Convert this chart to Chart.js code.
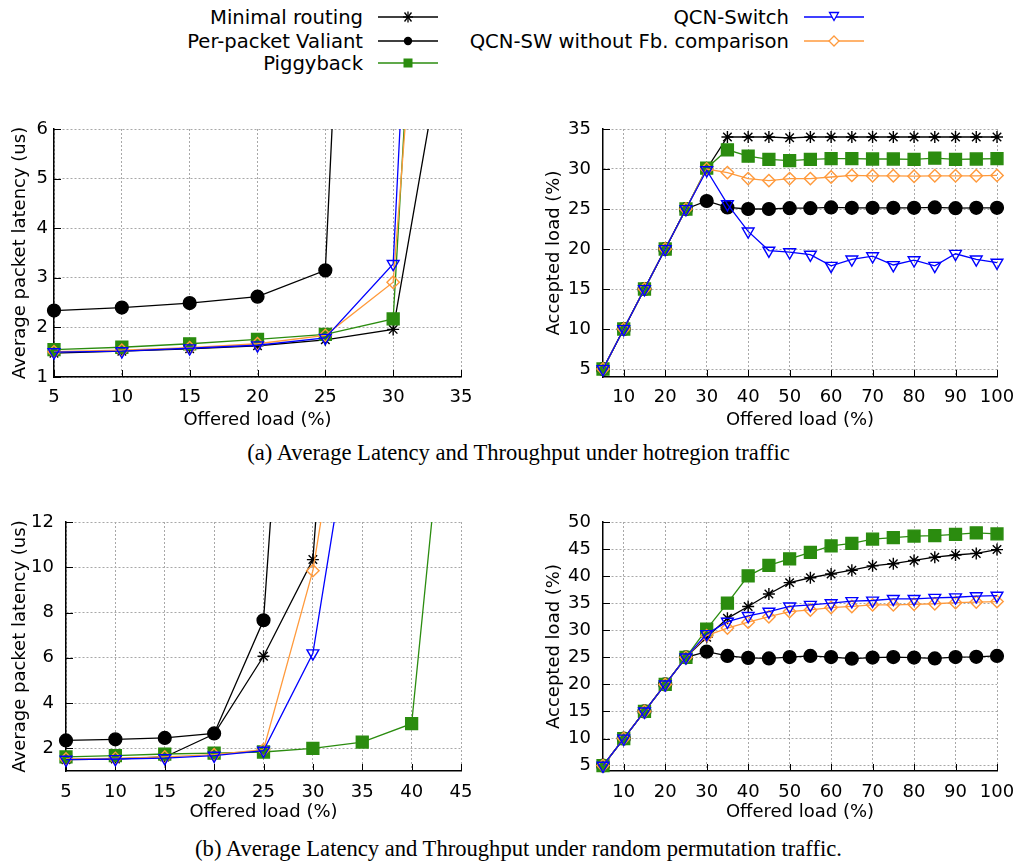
<!DOCTYPE html>
<html><head><meta charset="utf-8">
<script src="https://cdn.jsdelivr.net/npm/chart.js@4.4.1/dist/chart.umd.min.js"></script>
<style>
body{margin:0;background:#fff;width:1019px;height:863px;position:relative;overflow:hidden;font-family:"DejaVu Sans";}
canvas{position:absolute;}
.leg{position:absolute;height:22px;display:flex;align-items:center;justify-content:flex-end;font-size:19.6px;color:#000;white-space:nowrap;}
.leg svg{margin-left:15px;}
.cap{position:absolute;left:9px;width:1019px;text-align:center;font-family:"Liberation Serif";font-size:22.6px;line-height:24px;color:#000;}
</style></head><body>
<div class="leg" style="right:581px;top:6px;">Minimal routing<svg width="60" height="16"><line x1="0" y1="8" x2="60" y2="8" stroke="#000" stroke-width="1.3"/><g stroke="#000" stroke-width="1.3"><line x1="25" y1="8" x2="35" y2="8"/><line x1="26.5" y1="3.5" x2="33.5" y2="12.5"/><line x1="33.5" y1="3.5" x2="26.5" y2="12.5"/><line x1="30" y1="2.5" x2="30" y2="13.5"/></g></svg></div>
<div class="leg" style="right:581px;top:30px;">Per-packet Valiant<svg width="60" height="16"><line x1="0" y1="8" x2="60" y2="8" stroke="#000" stroke-width="1.3"/><circle cx="30" cy="8" r="4.2" fill="#000"/></svg></div>
<div class="leg" style="right:581px;top:52px;">Piggyback<svg width="60" height="16"><line x1="0" y1="8" x2="60" y2="8" stroke="#2b8c0f" stroke-width="1.3"/><rect x="25.5" y="3.5" width="9" height="9" fill="#2b8c0f"/></svg></div>
<div class="leg" style="right:155px;top:6px;">QCN-Switch<svg width="60" height="16"><line x1="0" y1="8" x2="60" y2="8" stroke="#0000ff" stroke-width="1.3"/><polygon points="25.5,3.5 34.5,3.5 30,11.5" fill="#fff" stroke="#0000ff" stroke-width="1.3"/></svg></div>
<div class="leg" style="right:155px;top:30px;">QCN-SW without Fb. comparison<svg width="60" height="16"><line x1="0" y1="8" x2="60" y2="8" stroke="#ff9a3c" stroke-width="1.3"/><polygon points="30,3 35,8 30,13 25,8" fill="#fff" stroke="#ff9a3c" stroke-width="1.3"/></svg></div>

<canvas id="c1" width="480" height="330" style="left:0;top:110px;"></canvas>
<canvas id="c2" width="489" height="330" style="left:530px;top:110px;"></canvas>
<canvas id="c3" width="480" height="330" style="left:0;top:505px;"></canvas>
<canvas id="c4" width="489" height="330" style="left:530px;top:505px;"></canvas>

<div class="cap" style="top:441px;">(a) Average Latency and Throughput under hotregion traffic</div>
<div class="cap" style="top:837px;">(b) Average Latency and Throughput under random permutation traffic.</div>

<script>
// ---------- data ----------
const seriesNames = ["Minimal routing","Per-packet Valiant","Piggyback","QCN-Switch","QCN-SW without Fb. comparison"];

// (a) hotregion latency
const latX_a = [5,10,15,20,25,30,35];
const latMinimal_a  = [1.48,1.52,1.57,1.63,1.75,1.96,9.8];
const latValiant_a  = [2.34,2.40,2.49,2.62,3.15,32,60];
const latPiggy_a    = [1.55,1.60,1.67,1.76,1.86,2.17,26];
const latQcn_a      = [1.50,1.52,1.58,1.64,1.79,3.28,30.5];
const latQcnNoFb_a  = [1.51,1.54,1.59,1.67,1.84,2.91,20.7];

// (a) hotregion accepted load
const thrX = [5,10,15,20,25,30,35,40,45,50,55,60,65,70,75,80,85,90,95,100];
const thrMinimal_a = [5,10,15,20,25,30,34,34,34,33.9,34,34,34,34,34,34,34,34,34,34];
const thrValiant_a = [5,10,15,20,25,26,25.2,25,25,25.1,25.1,25.2,25.15,25.15,25.15,25.15,25.2,25.1,25.15,25.15];
const thrPiggy_a   = [5,10,15,20,25,30.1,32.4,31.6,31.2,31.05,31.2,31.3,31.3,31.25,31.25,31.2,31.35,31.2,31.25,31.3];
const thrQcn_a     = [5,10,15,20,25,29.85,25.6,22.2,19.8,19.6,19.3,17.9,18.7,19.1,18.0,18.6,17.9,19.4,18.7,18.3];
const thrQcnNoFb_a = [5,10,15,20,25,30,29.55,28.8,28.55,28.8,28.8,29.0,29.2,29.15,29.15,29.1,29.15,29.15,29.15,29.2];

// (b) random permutation latency
const latX_b = [5,10,15,20,25,30,35,40,45];
const latMinimal_b  = [1.50,1.53,1.62,2.63,6.07,10.34,40,null,null];
const latValiant_b  = [2.35,2.40,2.46,2.66,7.66,38.7,null,null,null];
const latPiggy_b    = [1.62,1.68,1.75,1.79,1.84,2.00,2.28,3.09,25];
const latQcn_b      = [1.50,1.53,1.57,1.68,1.90,6.2,19.7,null,null];
const latQcnNoFb_b  = [1.53,1.56,1.62,1.72,1.94,9.85,23.3,null,null];

// (b) random permutation accepted load
const thrMinimal_b = [5,10,15,20,25,28.7,32.2,34.4,36.7,38.8,39.7,40.4,41.1,41.9,42.3,42.9,43.5,43.9,44.2,44.9];
const thrValiant_b = [5,10,15,20,25,26.05,25.25,24.9,24.8,25.05,25.25,25.05,24.75,24.95,25.05,24.95,24.8,25.05,25.1,25.25];
const thrPiggy_b   = [5,10,15,20,25,30.2,35.0,40.06,42.0,43.2,44.4,45.6,46.05,46.85,47.1,47.4,47.5,47.7,48.0,47.8];
const thrQcn_b     = [5,10,15,20,25,29.3,31.6,32.65,33.45,34.4,34.7,35.0,35.4,35.5,35.8,35.8,36.0,36.1,36.3,36.4];
const thrQcnNoFb_b = [5,10,15,20,25,29.0,30.4,31.5,32.5,33.45,33.75,34.2,34.4,34.7,34.7,34.8,34.9,35.1,35.2,35.3];

// ticks
const xTicks_lat_a = [5,10,15,20,25,30,35];
const yTicks_lat_a = [1,2,3,4,5,6];
const xTicks_thr = [10,20,30,40,50,60,70,80,90,100];
const yTicks_thr_a = [5,10,15,20,25,30,35];
const xTicks_lat_b = [5,10,15,20,25,30,35,40,45];
const yTicks_lat_b = [2,4,6,8,10,12];
const yTicks_thr_b = [5,10,15,20,25,30,35,40,45,50];

// ---------- styling ----------
const BLACK='#000000', GREEN='#2b8c0f', BLUE='#0000ff', ORANGE='#ff9a3c';
const styles = [
  {color:BLACK, pointStyle:'star', r:6, fill:BLACK, rot:0, order:5},
  {color:BLACK, pointStyle:'circle', r:6.4, fill:BLACK, rot:0, order:4},
  {color:GREEN, pointStyle:'rect', r:8.4, fill:GREEN, rot:0, order:3},
  {color:BLUE, pointStyle:'triangle', r:6.8, fill:'rgba(0,0,0,0)', rot:180, order:1},
  {color:ORANGE, pointStyle:'rectRot', r:6.2, fill:'rgba(0,0,0,0)', rot:0, order:2}
];

const inTicks = {
  id:'inTicks',
  beforeDatasetsDraw(chart){
    const {ctx, chartArea:a, scales:{x,y}} = chart;
    ctx.save(); ctx.strokeStyle='#000'; ctx.lineWidth=1; ctx.beginPath();
    x.ticks.forEach(t=>{const px=Math.round(x.getPixelForValue(t.value))+0.5; ctx.moveTo(px,a.bottom); ctx.lineTo(px,a.bottom-7);});
    y.ticks.forEach(t=>{const py=Math.round(y.getPixelForValue(t.value))+0.5; ctx.moveTo(a.left,py); ctx.lineTo(a.left+7,py);});
    ctx.stroke(); ctx.restore();
  }
};

function makeChart(id, xs, ys, o){
  const datasets = ys.map((arr,i)=>({
    label: seriesNames[i],
    data: xs.map((x,j)=>({x:x, y:arr[j]})),
    borderColor: styles[i].color,
    backgroundColor: styles[i].fill,
    borderWidth: 1.3,
    pointStyle: styles[i].pointStyle,
    pointRadius: styles[i].r,
    pointBorderWidth: 1.4,
    pointBorderColor: styles[i].color,
    pointBackgroundColor: styles[i].fill,
    pointRotation: styles[i].rot,
    order: styles[i].order,
    tension: 0,
    spanGaps: false,
    clip: o.clip
  }));
  const tickFont = {family:'DejaVu Sans', size:18};
  return new Chart(document.getElementById(id), {
    type:'line',
    data:{datasets},
    plugins:[inTicks],
    options:{
      responsive:false, animation:false, events:[],
      layout:{padding:o.pad},
      plugins:{legend:{display:false}, tooltip:{enabled:false}},
      scales:{
        x:{type:'linear', min:o.xMin, max:o.xMax,
          afterBuildTicks(s){ s.ticks = o.xTicks.map(v=>({value:v})); },
          afterFit(s){ s.height=o.xH; s.paddingLeft=0; s.paddingRight=0; },
          ticks:{color:'#000', font:tickFont, padding:o.xTickPad, autoSkip:false, maxRotation:0, callback:v=>String(v)},
          grid:{color:'#a8a8a8', lineWidth:1, drawTicks:false},
          border:{display:true, color:'#000', width:1.5, dash:[2,2]},
          title:{display:true, text:'Offered load (%)', color:'#000', font:tickFont, padding:{top:0,bottom:o.xTitlePad}}
        },
        y:{type:'linear', min:o.yMin, max:o.yMax,
          afterBuildTicks(s){ s.ticks = o.yTicks.map(v=>({value:v})); },
          afterFit(s){ s.width=o.yW; s.paddingTop=0; s.paddingBottom=0; },
          ticks:{color:'#000', font:tickFont, padding:o.yTickPad, autoSkip:false, callback:v=>String(v)},
          grid:{color:'#a8a8a8', lineWidth:1, drawTicks:false},
          border:{display:true, color:'#000', width:1.5, dash:[2,2]},
          title:{display:true, text:o.yTitle, color:'#000', font:tickFont, padding:{top:o.yTitlePad,bottom:0}}
        }
      }
    }
  });
}

makeChart('c1', latX_a, [latMinimal_a,latValiant_a,latPiggy_a,latQcn_a,latQcnNoFb_a], {
  xMin:5,xMax:35,xTicks:xTicks_lat_a,yMin:1,yMax:6,yTicks:yTicks_lat_a,
  yTitle:'Average packet latency (us)', pad:{top:19,right:19,left:0,bottom:0},
  yW:54,xH:63,xTickPad:10,yTickPad:6,xTitlePad:9,yTitlePad:10,
  clip:{left:12,right:12,top:0,bottom:12}
});
makeChart('c2', thrX, [thrMinimal_a,thrValiant_a,thrPiggy_a,thrQcn_a,thrQcnNoFb_a], {
  xMin:5,xMax:100,xTicks:xTicks_thr,yMin:4,yMax:35,yTicks:yTicks_thr_a,
  yTitle:'Accepted load (%)', pad:{top:19,right:22,left:0,bottom:0},
  yW:73,xH:63,xTickPad:10,yTickPad:12,xTitlePad:9,yTitlePad:14,
  clip:{left:12,right:12,top:12,bottom:12}
});
makeChart('c3', latX_b, [latMinimal_b,latValiant_b,latPiggy_b,latQcn_b,latQcnNoFb_b], {
  xMin:5,xMax:45,xTicks:xTicks_lat_b,yMin:1,yMax:12,yTicks:yTicks_lat_b,
  yTitle:'Average packet latency (us)', pad:{top:17,right:19,left:0,bottom:0},
  yW:66,xH:64,xTickPad:11,yTickPad:12,xTitlePad:12,yTitlePad:10,
  clip:{left:12,right:12,top:0,bottom:12}
});
makeChart('c4', thrX, [thrMinimal_b,thrValiant_b,thrPiggy_b,thrQcn_b,thrQcnNoFb_b], {
  xMin:5,xMax:100,xTicks:xTicks_thr,yMin:4,yMax:50,yTicks:yTicks_thr_b,
  yTitle:'Accepted load (%)', pad:{top:17,right:22,left:0,bottom:0},
  yW:73,xH:64,xTickPad:11,yTickPad:12,xTitlePad:12,yTitlePad:14,
  clip:{left:12,right:12,top:12,bottom:12}
});
</script>
</body></html>
